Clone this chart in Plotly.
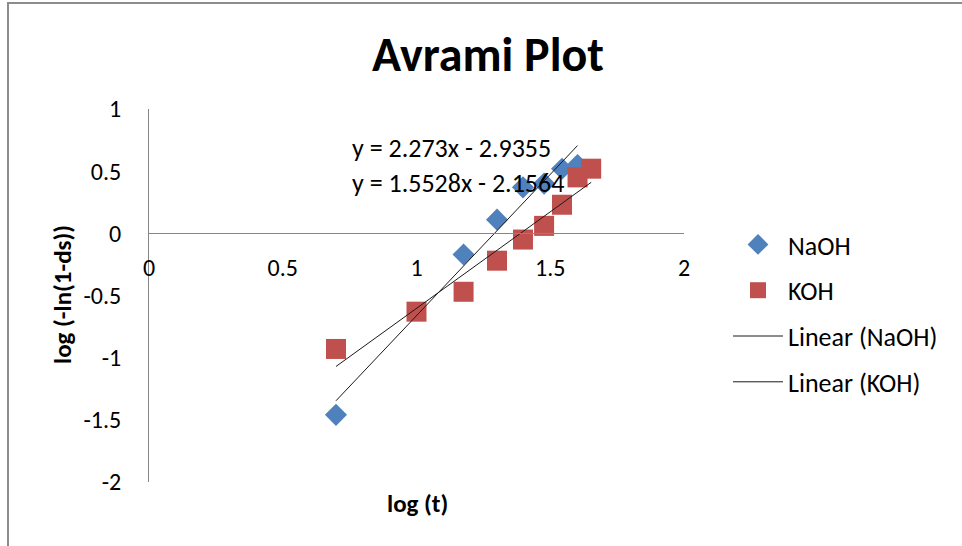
import plotly.graph_objects as go

# ---- data ----
naoh_x = [0.699, 1.176, 1.301, 1.398, 1.477, 1.544, 1.602]
naoh_y = [-1.46, -0.17, 0.11, 0.37, 0.40, 0.52, 0.55]

koh_x = [0.699, 1.0, 1.176, 1.301, 1.398, 1.477, 1.544, 1.602, 1.653]
koh_y = [-0.93, -0.63, -0.47, -0.22, -0.05, 0.06, 0.23, 0.45, 0.52]

naoh_slope, naoh_intercept = 2.273, -2.9355
koh_slope, koh_intercept = 1.5528, -2.1564

x_tick_vals = [0, 0.5, 1, 1.5, 2]
x_tick_text = ["0", "0.5", "1", "1.5", "2"]
y_tick_vals = [1, 0.5, 0, -0.5, -1, -1.5, -2]
y_tick_text = ["1", "0.5", "0", "-0.5", "-1", "-1.5", "-2"]

FONT = "Carlito, Lato, sans-serif"
BLUE = "#4F81BD"
RED = "#C0504D"
AXIS = "#868686"


def trend(xs, m, b):
    x0, x1 = min(xs), max(xs)
    return [x0, x1], [m * x0 + b, m * x1 + b]


fig = go.Figure()
fig.add_trace(go.Scatter(x=naoh_x, y=naoh_y, mode="markers", name="NaOH",
                         legendgroup="a",
                         marker=dict(symbol="diamond", size=17, color=BLUE,
                                     line=dict(width=0))))
fig.add_trace(go.Scatter(x=koh_x, y=koh_y, mode="markers", name="KOH",
                         legendgroup="b",
                         marker=dict(symbol="square", size=20, color=RED,
                                     line=dict(width=0))))
tx, ty = trend(naoh_x, naoh_slope, naoh_intercept)
fig.add_trace(go.Scatter(x=tx, y=ty, mode="lines", name="Linear (NaOH)",
                         legendgroup="c",
                         line=dict(color="#1a1a1a", width=1)))
tx, ty = trend(koh_x, koh_slope, koh_intercept)
fig.add_trace(go.Scatter(x=tx, y=ty, mode="lines", name="Linear (KOH)",
                         legendgroup="d",
                         line=dict(color="#1a1a1a", width=1)))

W, H = 962, 546
ML, MR, MT, MB = 149, 278, 109, 64
PW, PH = W - ML - MR, H - MT - MB
yr = [-2, 1]
zero_pos = (0 - yr[0]) / (yr[1] - yr[0])


def px_x(p):
    return (p - ML) / PW


def px_y(p):
    return (H - MB - p) / PH


fig.update_layout(
    width=W, height=H, autosize=False,
    margin=dict(l=ML, r=MR, t=MT, b=MB),
    paper_bgcolor="white", plot_bgcolor="white",
    font=dict(family=FONT, size=24, color="black"),
    title=dict(text="<b>Avrami Plot</b>", xref="container", x=488 / W,
               xanchor="center", yref="container", y=1 - 54 / H,
               yanchor="middle", font=dict(size=48, family=FONT, color="black")),
    showlegend=True,
    legend=dict(x=px_x(728), xanchor="left", y=px_y(221), yanchor="top",
                font=dict(size=26, family=FONT, color="black"),
                bgcolor="rgba(0,0,0,0)", tracegroupgap=9,
                itemsizing="trace", itemwidth=50),
    xaxis=dict(range=[0, 2], tickvals=x_tick_vals, ticktext=x_tick_text,
               anchor="free", position=zero_pos, showline=True,
               linecolor=AXIS, linewidth=1, ticks="", showgrid=False,
               zeroline=False, ticklabelstandoff=13,
               tickfont=dict(size=24, family=FONT, color="black")),
    yaxis=dict(range=yr, tickvals=y_tick_vals, ticktext=y_tick_text,
               showline=True, linecolor=AXIS, linewidth=1, ticks="",
               showgrid=False, zeroline=True, zerolinecolor=AXIS,
               zerolinewidth=1, ticklabelstandoff=22,
               tickfont=dict(size=24, family=FONT, color="black")),
    annotations=[
        dict(text="<b>log (t)</b>", xref="paper", yref="paper",
             x=px_x(417), y=px_y(503), xanchor="center", yanchor="middle",
             showarrow=False, font=dict(size=25, family=FONT, color="black")),
        dict(text="<b>log (-ln(1-ds))</b>", xref="paper", yref="paper",
             x=px_x(62), y=px_y(295), xanchor="center", yanchor="middle",
             textangle=-90, showarrow=False,
             font=dict(size=25, family=FONT, color="black")),
        dict(text="y = 2.273x - 2.9355", xref="paper", yref="paper",
             x=px_x(451), y=px_y(148), xanchor="center", yanchor="middle",
             showarrow=False, font=dict(size=26, family=FONT, color="black")),
        dict(text="y = 1.5528x - 2.1564", xref="paper", yref="paper",
             x=px_x(458), y=px_y(183), xanchor="center", yanchor="middle",
             showarrow=False, font=dict(size=26, family=FONT, color="black")),
    ],
    shapes=[
        dict(type="rect", xref="paper", yref="paper",
             x0=px_x(8), x1=px_x(1100), y0=px_y(700), y1=px_y(3),
             line=dict(color="#8C8C8C", width=2), fillcolor="rgba(0,0,0,0)",
             layer="below"),
    ],
)

fig.write_html(
    "out.html",
    config={"displayModeBar": False},
    post_script="document.body.style.margin='0';"
                "document.body.style.overflow='hidden';",
)
